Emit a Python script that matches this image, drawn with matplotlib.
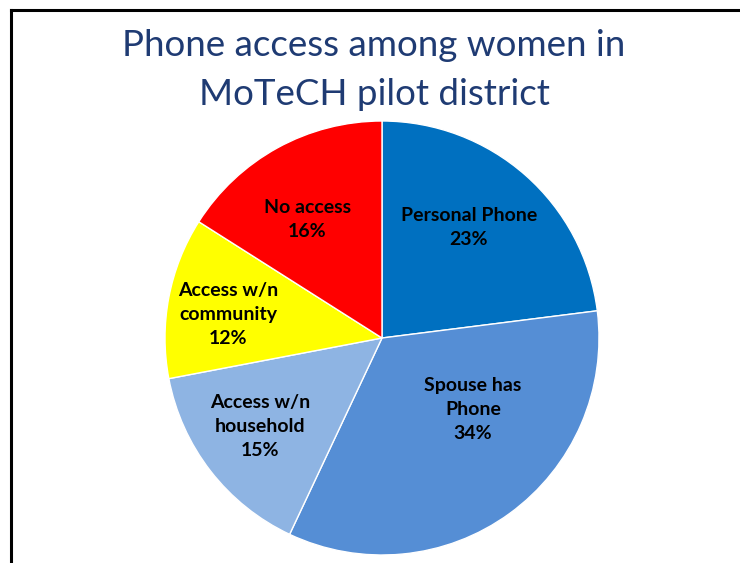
import matplotlib
matplotlib.use("Agg")
import matplotlib.pyplot as plt
from matplotlib.lines import Line2D

# data
labels = ['Personal Phone', 'Spouse has\nPhone', 'Access w/n\nhousehold', 'Access w/n\ncommunity', 'No access']
shares = [23, 34, 15, 12, 16]
colors = ['#0070C0', '#558ED5', '#8EB4E3', '#FFFF00', '#FF0000']
# label centres in pie units (radius = 1)
label_pos = [(0.40, 0.51), (0.42, -0.33), (-0.56, -0.41), (-0.71, 0.11), (-0.345, 0.545)]

W, H = 740, 563
fig = plt.figure(figsize=(W / 100, H / 100), dpi=100)
fig.patch.set_facecolor('white')

# slide border (top and left edges)
fig.add_artist(Line2D([11 / W, 1], [1 - 10 / H, 1 - 10 / H], color='black', lw=2.2))
fig.add_artist(Line2D([11 / W, 11 / W], [0, 1 - 10 / H], color='black', lw=2.2))

fig.text(374 / W, 1 - 70 / H, 'Phone access among women in\nMoTeCH pilot district',
         ha='center', va='center', fontsize=26.5, color='#1F3B73', family='Lato',
         linespacing=1.6)

cx, cy, r = 382, 338, 217
ax = fig.add_axes([(cx - r) / W, (H - cy - r) / H, 2 * r / W, 2 * r / H])
ax.pie(shares, colors=colors, startangle=90, counterclock=False, radius=1,
       wedgeprops=dict(edgecolor='white', linewidth=1))
ax.set_xlim(-1, 1)
ax.set_ylim(-1, 1)
ax.axis('off')

for lab, val, (x, y) in zip(labels, shares, label_pos):
    ax.text(x, y, '%s\n%d%%' % (lab, val), ha='center', va='center',
            fontsize=14, fontweight='bold', family='Lato', linespacing=1.5)

fig.savefig('out.png', dpi=100)
